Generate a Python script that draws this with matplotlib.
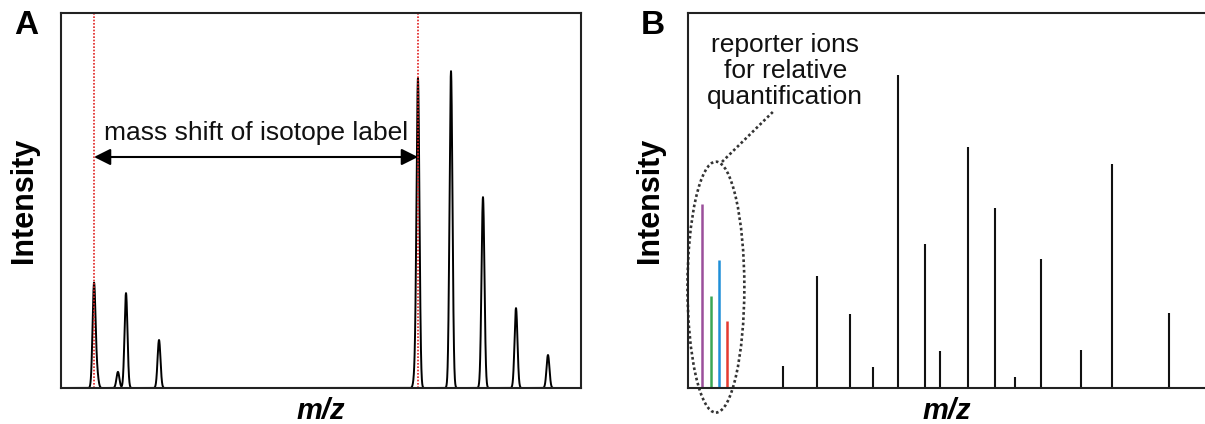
import matplotlib
matplotlib.use('Agg')
import numpy as np
import matplotlib.pyplot as plt
from matplotlib.patches import Ellipse

plt.rcParams['font.family'] = ['Liberation Sans', 'DejaVu Sans']

# Panel A: isotope-labelled peptide pairs (m/z in arbitrary units, intensity in %)
peak_mz_a = [6.35, 6.9, 10.95, 12.5, 18.85, 68.1, 68.65, 75.0, 81.15, 87.5, 93.65]
peak_int_a = [27.5, 4.0, 4.3, 25.3, 12.8, 3.5, 82.1, 84.5, 50.9, 21.3, 8.8]
label_lines_a = [6.35, 68.65]

# Panel B: isobaric tags, reporter ions + fragment ions
reporter_mz = [2.71, 4.45, 6.0, 7.54]
reporter_int = [49.1, 24.5, 34.1, 17.9]
reporter_colors = ['#9b4f9b', '#3aa655', '#1e8fd8', '#e53a30']
frag_mz = [18.4, 24.95, 31.3, 35.8, 40.6, 45.8, 48.7, 54.2, 59.4, 63.2,
           68.3, 76.0, 82.0, 93.0]
frag_int = [5.9, 29.9, 19.7, 5.6, 83.5, 38.4, 9.9, 64.3, 48.0, 2.9,
            34.4, 10.1, 59.7, 20.0]

fig = plt.figure(figsize=(12.05, 4.24), dpi=100)
axA = fig.add_axes([61 / 1205, 1 - 388 / 424, 520 / 1205, 375 / 424])
axB = fig.add_axes([688 / 1205, 1 - 388 / 424, 517 / 1205, 375 / 424])

for ax in (axA, axB):
    ax.set_xlim(0, 100)
    ax.set_ylim(0, 100)
    ax.set_xticks([])
    ax.set_yticks([])
    for s in ax.spines.values():
        s.set_linewidth(1.5)
        s.set_color('#222222')
    ax.text(0.5, -0.062, 'm/z', transform=ax.transAxes, ha='center', va='center',
            fontsize=21, fontweight='bold', fontstyle='italic')
axB.spines['right'].set_visible(False)

axA.text(-0.071, 0.5, 'Intensity', transform=axA.transAxes, rotation=90,
         ha='center', va='center', fontsize=22, fontweight='bold')
axB.text(-0.073, 0.5, 'Intensity', transform=axB.transAxes, rotation=90,
         ha='center', va='center', fontsize=22, fontweight='bold')
fig.text(26 / 1205, 1 - 26 / 424, 'A', fontsize=24, fontweight='bold', ha='center', va='center')
fig.text(653 / 1205, 1 - 26 / 424, 'B', fontsize=24, fontweight='bold', ha='center', va='center')

# --- A: profile spectrum
x = np.linspace(0, 100, 8000)
y = np.zeros_like(x)
for c, h in zip(peak_mz_a, peak_int_a):
    y += h * np.exp(-(x - c) ** 2 / (2 * 0.28 ** 2))
axA.plot(x, y, color='black', lw=1.4)
for xv in label_lines_a:
    axA.axvline(xv, color='#e02020', ls=(0, (1, 1)), lw=1.2)
axA.annotate('', xy=(label_lines_a[0], 61.6), xytext=(label_lines_a[1], 61.6),
             arrowprops=dict(arrowstyle='<|-|>,head_length=0.5,head_width=0.25',
                             color='black', lw=1.5, mutation_scale=20,
                             shrinkA=0, shrinkB=0))
axA.text(np.mean(label_lines_a), 66.1, 'mass shift of isotope label',
         ha='center', va='baseline', fontsize=19, color='#111111')

# --- B: centroid spectrum
axB.vlines(frag_mz, 0, frag_int, color='#111111', lw=1.5)
axB.vlines(reporter_mz, 0, reporter_int, colors=reporter_colors, lw=1.8)
axB.add_patch(Ellipse((5.4, 26.9), 11.0, 66.9, fill=False, ls=(0, (1, 1)),
                      lw=1.9, ec='#333333', clip_on=False))
axB.plot([6.58, 16.4], [60.3, 73.6], color='#333333', ls=(0, (1, 1)), lw=1.9)
axB.text(18.8, 84.5, 'reporter ions\nfor relative\nquantification',
         ha='center', va='center', fontsize=19, linespacing=1.1, color='#111111')

fig.savefig('out.png', dpi=100)
